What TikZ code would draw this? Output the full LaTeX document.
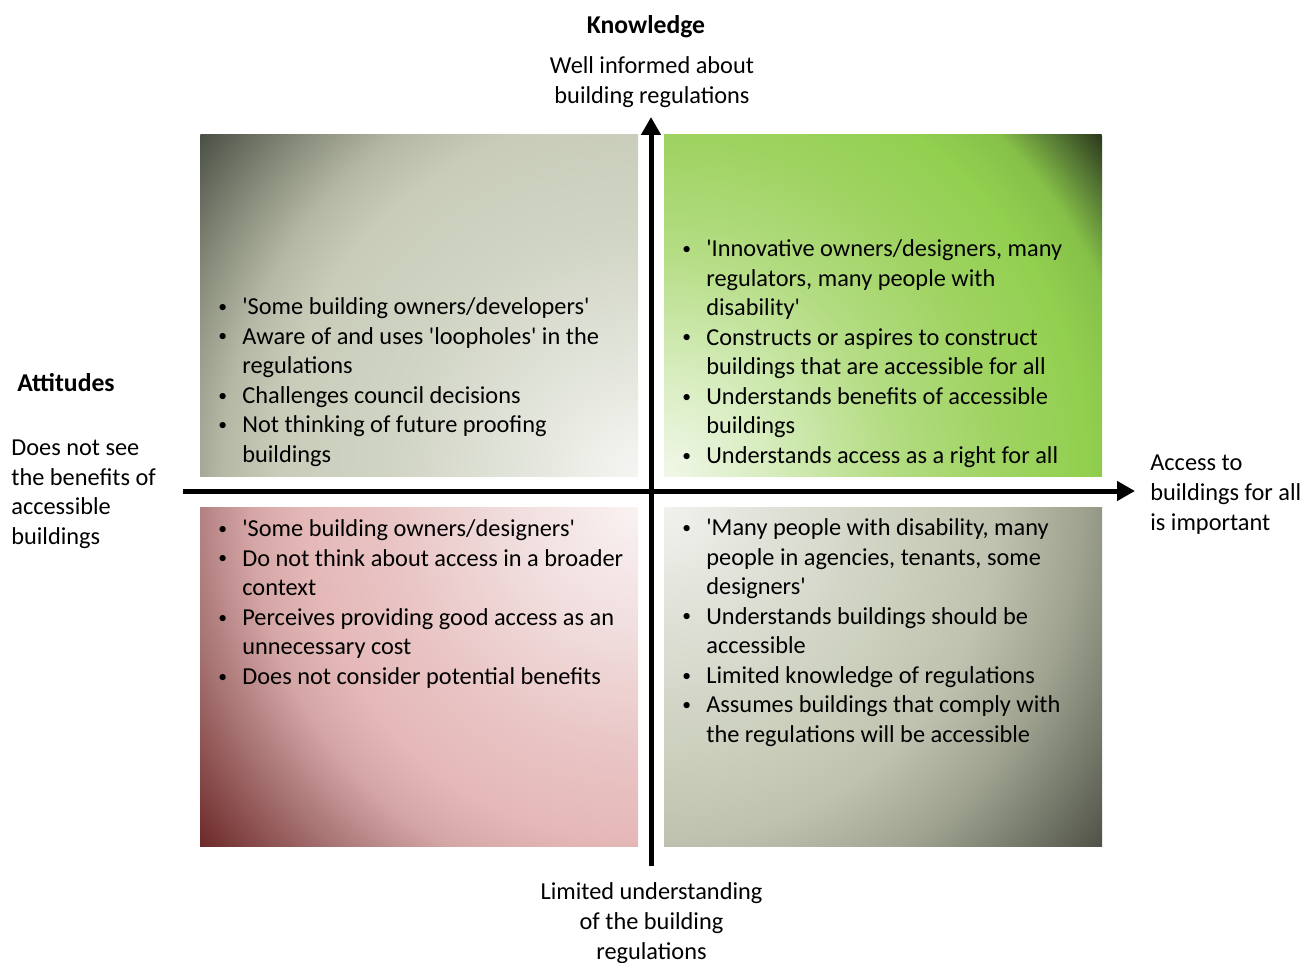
\documentclass[tikz,border=0pt]{standalone}
\usepackage{fontspec}
\setmainfont{Carlito}[Ligatures=TeXOff]
\usetikzlibrary{arrows.meta}

% colours of the four quadrants, light centre to dark corner
\definecolor{tlA}{HTML}{F5F6F2}
\definecolor{tlB}{HTML}{DFE2D7}
\definecolor{tlC}{HTML}{D0D4C3}
\definecolor{tlD}{HTML}{C8CCB9}
\definecolor{tlE}{HTML}{B4B8A5}
\definecolor{tlF}{HTML}{8C907E}
\definecolor{tlG}{HTML}{4B5046}
\definecolor{trA}{HTML}{F1F7E9}
\definecolor{trB}{HTML}{D8EDC0}
\definecolor{trC}{HTML}{B5DD85}
\definecolor{trD}{HTML}{9FD362}
\definecolor{trE}{HTML}{92D050}
\definecolor{trF}{HTML}{86C048}
\definecolor{trG}{HTML}{587C35}
\definecolor{trH}{HTML}{2B381C}
\definecolor{blA}{HTML}{FAF2F2}
\definecolor{blB}{HTML}{F2E0E0}
\definecolor{blC}{HTML}{E9C4C4}
\definecolor{blD}{HTML}{E5B8B8}
\definecolor{blE}{HTML}{D4A5A5}
\definecolor{blF}{HTML}{A87474}
\definecolor{blG}{HTML}{874949}
\definecolor{blH}{HTML}{6B2828}
\definecolor{brA}{HTML}{F1F2EE}
\definecolor{brB}{HTML}{DFE1D7}
\definecolor{brC}{HTML}{CBCFBC}
\definecolor{brD}{HTML}{BEC2AE}
\definecolor{brE}{HTML}{9FA390}
\definecolor{brF}{HTML}{767A6B}
\definecolor{brG}{HTML}{4E5145}

\pgfdeclareradialshading{tlshade}{\pgfpoint{0bp}{0bp}}{color(0bp)=(tlA); color(6.25bp)=(tlB); color(11.25bp)=(tlC); color(16.25bp)=(tlD); color(18.75bp)=(tlE); color(21.25bp)=(tlF); color(25bp)=(tlG); color(50bp)=(tlG)}
\pgfdeclareradialshading{trshade}{\pgfpoint{0bp}{0bp}}{color(0bp)=(trA); color(4.5bp)=(trB); color(10bp)=(trC); color(15bp)=(trD); color(19bp)=(trE); color(21.5bp)=(trF); color(23.25bp)=(trG); color(25bp)=(trH); color(50bp)=(trH)}
\pgfdeclareradialshading{blshade}{\pgfpoint{0bp}{0bp}}{color(0bp)=(blA); color(5bp)=(blB); color(11.25bp)=(blC); color(15bp)=(blD); color(17.5bp)=(blE); color(20.5bp)=(blF); color(23bp)=(blG); color(25bp)=(blH); color(50bp)=(blH)}
\pgfdeclareradialshading{brshade}{\pgfpoint{0bp}{0bp}}{color(0bp)=(brA); color(5bp)=(brB); color(11.25bp)=(brC); color(15bp)=(brD); color(18.75bp)=(brE); color(22bp)=(brF); color(25bp)=(brG); color(50bp)=(brG)}

\newcommand{\quadsize}{\fontsize{13.85}{16.8}\selectfont}
\newcommand{\bul}{\makebox[0.5cm][l]{\hspace{0.02cm}\raisebox{0.1em}{\fontsize{10}{10}\selectfont •}}}
\newcommand{\cnt}{\hspace*{0.5cm}}

\tikzset{
  axis/.style={line width=0.1cm, -{Triangle[length=0.36cm, width=0.38cm]}},
  quadtext/.style={anchor=base west, inner sep=0pt, align=left, font=\quadsize},
  axistitle/.style={inner sep=0pt, font=\fontsize{14.6}{17}\selectfont\bfseries},
  axislabel/.style={inner sep=0pt, font=\quadsize}
}

\begin{document}
\begin{tikzpicture}
    \useasboundingbox (0,0) rectangle (26,-19.26);

    % quadrants
    \begin{scope}
      \clip (4.0,-2.7) rectangle (12.76,-9.52);
      \shade[shading=tlshade] (12.76,-9.52) circle (11.1);
    \end{scope}
    \begin{scope}
      \clip (13.28,-2.7) rectangle (22.04,-9.52);
      \shade[shading=trshade] (13.28,-9.52) circle (11.1);
    \end{scope}
    \begin{scope}
      \clip (4.0,-10.14) rectangle (12.76,-16.92);
      \shade[shading=blshade] (12.76,-10.14) circle (11.1);
    \end{scope}
    \begin{scope}
      \clip (13.28,-10.14) rectangle (22.04,-16.92);
      \shade[shading=brshade] (13.28,-10.14) circle (11.1);
    \end{scope}

    % axes
    \coordinate (west) at (3.66,-9.82);
    \coordinate (east) at (22.7,-9.82);
    \coordinate (south) at (13.02,-17.32);
    \coordinate (north) at (13.02,-2.34);
    \draw[axis] (west) -- (east);
    \draw[axis] (south) -- (north);

    % base of each list = baseline of its last line
    \node[quadtext] (owners) at (4.34,-9.25) {\bul 'Some building owners/developers'\\
      \bul Aware of and uses 'loopholes' in the\\
      \cnt regulations\\
      \bul Challenges council decisions\\
      \bul Not thinking of future proofing\\
      \cnt buildings};

    \node[quadtext] (innovative) at (13.62,-9.27) {\bul 'Innovative owners/designers, many\\
      \cnt regulators, many people with\\
      \cnt disability'\\
      \bul Constructs or aspires to construct\\
      \cnt buildings that are accessible for all\\
      \bul Understands benefits of accessible\\
      \cnt buildings\\
      \bul Understands access as a right for all};

    \node[quadtext] (designers) at (4.34,-13.69) {\bul 'Some building owners/designers'\\
      \bul Do not think about access in a broader\\
      \cnt context\\
      \bul Perceives providing good access as an\\
      \cnt unnecessary cost\\
      \bul Does not consider potential benefits};

    \node[quadtext] (people) at (13.62,-14.85) {\bul 'Many people with disability, many\\
      \cnt people in agencies, tenants, some\\
      \cnt designers'\\
      \bul Understands buildings should be\\
      \cnt accessible\\
      \bul Limited knowledge of regulations\\
      \bul Assumes buildings that comply with\\
      \cnt the regulations will be accessible};

    \node[axistitle, anchor=base] (knowledge) at (12.92,-0.67) {Knowledge};
    \node[axislabel, anchor=base, align=center] (informed) at (13.04,-2.07) {Well informed about\\building regulations};
    \node[axislabel, anchor=base, align=center] (limited) at (13.03,-19.18) {Limited understanding\\of the building\\regulations};

    \node[axistitle, anchor=base west] (attitudes) at (0.34,-7.82) {Attitudes};
    \node[axislabel, anchor=base west, align=left] (benefits) at (0.22,-10.89) {Does not see\\the benefits of\\accessible\\buildings};
    \node[axislabel, anchor=base west, align=left] (important) at (23.0,-10.6) {Access to\\buildings for all\\is important};

  \end{tikzpicture}
\end{document}
